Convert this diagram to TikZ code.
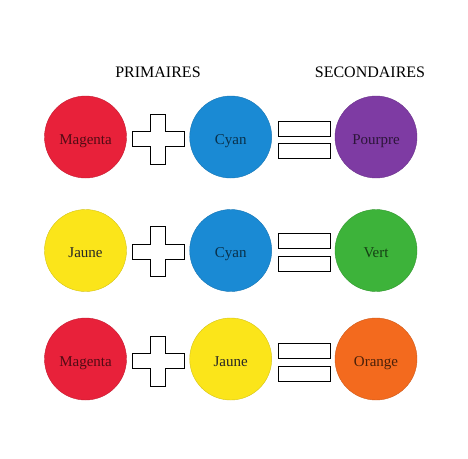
\documentclass[tikz,border=0pt]{standalone}
\usepackage{fontspec}
\setmainfont{Liberation Serif}
\definecolor{magentared}{HTML}{E8213A}
\definecolor{cyanblue}{HTML}{1A8AD4}
\definecolor{pourpre}{HTML}{7E3BA3}
\definecolor{jaune}{HTML}{FBE51A}
\definecolor{vert}{HTML}{3DB33A}
\definecolor{orange}{HTML}{F36A1E}
\begin{document}
\begin{tikzpicture}[x=1pt, y=-1pt,
  disc/.style={circle, minimum size=82pt, inner sep=0pt, outer sep=0pt, text height=14pt, text depth=0pt, font=\fontsize{15}{18}\selectfont},
  title/.style={font=\fontsize{16}{19}\selectfont},
  sign/.style={draw=black, fill=white, line width=0.9pt}]
\useasboundingbox (0,0) rectangle (468,458);

% Titles
\node[title] (prim) at (158,72) {PRIMAIRES};
\node[title] (sec) at (370,72) {SECONDAIRES};

% First row left to right
\node[disc, fill=magentared, draw=magentared!85!black, text=magentared!35!black] (m1) at (85.5,137) {Magenta};
\node[disc, fill=cyanblue, draw=cyanblue!85!black, text=cyanblue!35!black] (c1) at (230.7,137) {Cyan};
\node[disc, fill=pourpre, draw=pourpre!85!black, text=pourpre!35!black] (p1) at (376,137) {Pourpre};
\draw[sign, shift={(158,139)}] (-7.5,-25) -- (7.5,-25) -- (7.5,-7.5) -- (26,-7.5) -- (26,7.5) -- (7.5,7.5)
  -- (7.5,25) -- (-7.5,25) -- (-7.5,7.5) -- (-26,7.5) -- (-26,-7.5) -- (-7.5,-7.5) -- cycle;
\draw[sign] (278,121.7) rectangle (330,136);
\draw[sign] (278,143.3) rectangle (330,158.3);

% Second row left to right
\node[disc, fill=jaune, draw=jaune!85!black, text=black!85] (j2) at (85.5,250.5) {Jaune};
\node[disc, fill=cyanblue, draw=cyanblue!85!black, text=cyanblue!35!black] (c2) at (230.7,250.5) {Cyan};
\node[disc, fill=vert, draw=vert!85!black, text=vert!35!black] (v2) at (376,250.5) {Vert};
\draw[sign, shift={(158,251.7)}] (-7.5,-25) -- (7.5,-25) -- (7.5,-7.5) -- (26,-7.5) -- (26,7.5) -- (7.5,7.5)
  -- (7.5,25) -- (-7.5,25) -- (-7.5,7.5) -- (-26,7.5) -- (-26,-7.5) -- (-7.5,-7.5) -- cycle;
\draw[sign] (278,233.3) rectangle (330,248.3);
\draw[sign] (278,256.7) rectangle (330,271);

% Third row left to right
\node[disc, fill=magentared, draw=magentared!85!black, text=magentared!35!black] (m3) at (85.5,359) {Magenta};
\node[disc, fill=jaune, draw=jaune!85!black, text=black!85] (j3) at (230.7,359) {Jaune};
\node[disc, fill=orange, draw=orange!85!black, text=orange!30!black] (o3) at (376,359) {Orange};
\draw[sign, shift={(158,361)}] (-7.5,-25) -- (7.5,-25) -- (7.5,-7.5) -- (26,-7.5) -- (26,7.5) -- (7.5,7.5)
  -- (7.5,25) -- (-7.5,25) -- (-7.5,7.5) -- (-26,7.5) -- (-26,-7.5) -- (-7.5,-7.5) -- cycle;
\draw[sign] (278,343.3) rectangle (330,358.3);
\draw[sign] (278,366) rectangle (330,381);
\end{tikzpicture}
\end{document}
